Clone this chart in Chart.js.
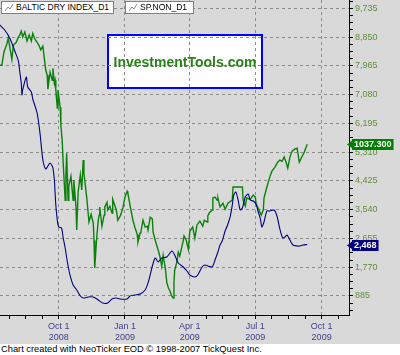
<!DOCTYPE html>
<html><head><meta charset="utf-8">
<script src="https://cdn.jsdelivr.net/npm/chart.js@4.4.1/dist/chart.umd.min.js"></script>
<style>
html,body{margin:0;padding:0;background:#d9d9d9;}
#wrap{position:relative;width:400px;height:355px;overflow:hidden;background:#d9d9d9;font-family:"Liberation Sans",Arial,sans-serif;}
canvas{position:absolute;left:0;top:0;}
.leg{position:absolute;top:1px;height:11px;background:#fff;border:1px solid #808080;font-size:8.5px;line-height:11px;color:#000;white-space:nowrap;}
.leg svg{position:absolute;left:3px;top:2px;}
.leg span{position:absolute;left:14px;top:0;}
#wm{position:absolute;left:107px;top:34px;width:156px;height:55px;display:flex;align-items:center;justify-content:center;font-weight:bold;font-size:14px;color:#2a801a;}
#footer{position:absolute;left:0;top:344px;width:400px;height:11px;background:#fff;font-size:9.3px;line-height:11px;color:#000;padding-left:1px;}
</style></head><body>
<div id="wrap">
<canvas id="c" width="400" height="355"></canvas>
<div class="leg" style="left:1px;width:111px"><svg width="9" height="8"><polyline points="0,7 3,3 5,5 8,0" fill="none" stroke="#8a8a8a" stroke-width="1"/></svg><span>BALTIC DRY INDEX_D1</span></div>
<div class="leg" style="left:125px;width:67px"><svg width="9" height="8"><polyline points="0,7 3,3 5,5 8,0" fill="none" stroke="#8a8a8a" stroke-width="1"/></svg><span>SP.NON_D1</span></div>
<div id="wm">InvestmentTools.com</div>
<div id="footer">Chart created with NeoTicker EOD © 1998-2007 TickQuest Inc.</div>
</div>
<script>
// x values are days after 1 Oct 2008
const bdiDays = [-82,-75,-68,-61,-56,-54,-52,-51,-50,-45,-43,-38,-36,-30,-26,-22,-18,-15,-12,-9,-8,-6,-5,-4,-2,0,4,6,9,12,16,20,25,30,34,41,48,55,61,68,74,80,85,95,99,106,113,120,124,127,130,134,138,143,150,157,161,166,173,178,182,189,193,199,203,207,213,217,221,224,227,231,234,238,241,243,246,249,252,255,259,263,266,270,274,277,280,282,285,289,293,299,303,307,311,314,317,321,325,331,335,339,345];
const bdiValues = [9221,9067,8821,8421,8114,7775,7437,7068,7222,7621,7314,7160,6945,6514,5899,5068,4792,4884,4976,4884,4822,4453,4053,3684,3223,3007,2977,2700,2361,1931,1500,1223,1070,885,823,854,854,762,670,670,793,823,793,793,885,916,947,1070,1285,1531,1808,2054,1931,2054,2085,2269,2146,1900,1777,1654,1531,1469,1531,1777,1839,1808,1777,1992,2238,2454,2577,2884,3038,3315,3684,3992,4084,3838,3530,3592,3930,4023,3838,3807,3715,3469,3254,3007,3161,3500,3500,3530,3346,2946,2669,2700,2761,2608,2454,2423,2423,2454,2468];
const spDays = [-82,-79,-76,-72,-70,-68,-65,-63,-59,-56,-54,-52,-50,-47,-44,-41,-38,-36,-33,-30,-27,-25,-22,-20,-18,-16,-15,-12,-9,-8,-6,-5,-4,-2,-1,2,3,5,6,9,10,11,13,14,17,20,21,24,25,27,30,32,34,35,39,42,45,48,49,50,53,55,56,57,60,63,64,67,68,71,74,75,80,82,86,89,92,95,96,99,103,106,109,110,113,114,117,120,123,124,127,130,131,134,136,139,141,143,145,148,150,152,155,157,159,160,161,164,166,168,173,174,177,180,182,186,189,192,196,200,202,206,207,209,213,214,217,220,221,224,228,231,235,241,242,249,255,256,259,261,266,270,273,274,277,281,284,285,289,293,296,300,304,307,310,313,316,318,321,324,328,331,334,338,341,345];
const spValues = [1222,1222,1253,1272,1286,1265,1236,1269,1276,1288,1293,1302,1288,1300,1279,1293,1279,1297,1283,1276,1267,1258,1267,1239,1211,1199,1166,1206,1187,1215,1180,1187,1164,1122,1164,1124,1082,1042,1000,906,965,1016,906,939,962,906,953,890,836,925,965,930,1000,969,911,855,873,852,812,747,824,859,871,890,845,871,890,901,883,892,876,908,883,859,871,887,913,927,923,894,859,841,826,808,829,831,859,843,845,836,866,862,831,812,801,784,770,751,777,747,714,702,691,681,677,712,742,761,784,775,812,822,812,791,833,843,817,848,857,845,859,855,869,876,883,911,913,906,911,890,899,885,899,906,937,937,937,906,892,911,908,918,913,897,887,871,883,911,937,960,974,983,995,1000,997,1007,993,981,1007,1021,1026,1028,995,1009,1019,1037.3];
const xTickDays = [0, 92, 182, 273, 365];
const xTickLabels = [['Oct 1','2008'],['Jan 1','2009'],['Apr 1','2009'],['Jul 1','2009'],['Oct 1','2009']];
const xMinorDays = [-69,-46,-23,23,46,69,115,137,160,205,228,250,296,319,342,388];
const yTickValues = [885,1770,2655,3540,4425,5310,6195,7080,7965,8850,9735];
const seriesNames = ['BALTIC DRY INDEX_D1','SP.NON_D1'];

const GRID = '#8c8c8c';
const bdiLast = bdiValues[bdiValues.length-1];
const spLast = spValues[spValues.length-1];

const watermarkBox = {
  id:'wmbox',
  beforeDraw(chart){
    const c = chart.ctx;
    c.save();
    c.fillStyle = '#ffffff';
    c.fillRect(107,34,156,55);
    c.strokeStyle = '#0000ff';
    c.lineWidth = 2;
    c.strokeRect(108,35,154,53);
    c.restore();
  }
};
const lastValueTags = {
  id:'lastval',
  afterDraw(chart){
    const c = chart.ctx, area = chart.chartArea;
    chart.data.datasets.forEach(ds=>{
      const last = ds.data[ds.data.length-1];
      const y = Math.round(chart.scales[ds.yAxisID].getPixelForValue(last.y));
      c.save();
      c.font = 'bold 9px "Liberation Sans", Arial, sans-serif';
      const w = c.measureText(ds.tagText).width + 4;
      const x0 = area.right + 3;
      c.fillStyle = ds.tagColor;
      c.fillRect(x0, y-5, w, 11);
      c.beginPath(); c.moveTo(x0, y-3.5); c.lineTo(x0-5, y+0.5); c.lineTo(x0, y+4); c.closePath(); c.fill();
      c.fillStyle = '#ffffff';
      c.textBaseline = 'middle';
      c.fillText(ds.tagText, x0+2, y+1);
      c.restore();
    });
  }
};

Chart.defaults.font.family = '"Liberation Sans", Arial, sans-serif';
new Chart(document.getElementById('c'), {
  type:'line',
  data:{
    datasets:[
      {label:seriesNames[0], data:bdiDays.map((d,i)=>({x:d,y:bdiValues[i]})), yAxisID:'y',
       borderColor:'#000080', borderWidth:1.1, pointRadius:0, tension:0.25,
       tagText:bdiLast.toLocaleString('en-US'), tagColor:'#000080'},
      {label:seriesNames[1], data:spDays.map((d,i)=>({x:d,y:spValues[i]})), yAxisID:'y2',
       borderColor:'#0a820a', borderWidth:1.4, pointRadius:0, tension:0,
       tagText:spLast.toFixed(3), tagColor:'#008000'}
    ]
  },
  options:{
    responsive:false, animation:false, events:[],
    layout:{padding:0},
    plugins:{legend:{display:false}, tooltip:{enabled:false}, title:{display:false}},
    scales:{
      x:{
        type:'linear', min:-81.5, max:403,
        afterBuildTicks(s){
          s.ticks = xTickDays.concat(xMinorDays).sort((a,b)=>a-b).map(v=>({value:v}));
        },
        afterFit(s){ s.height = 40; s.paddingLeft = 0; s.paddingRight = 0; },
        grid:{
          color:ctx=> (ctx.tick && xTickDays.includes(ctx.tick.value)) ? GRID : 'rgba(0,0,0,0)',
          tickColor:'#000', tickLength:4, lineWidth:1
        },
        border:{display:true, color:'#000', width:1, dash:[3,3]},
        ticks:{
          autoSkip:false, maxRotation:0, minRotation:0, padding:2,
          color:'#404090', font:{size:9, lineHeight:1.25},
          callback:(v)=>{ const i = xTickDays.indexOf(v); return i>=0 ? xTickLabels[i] : ''; }
        }
      },
      y:{
        type:'linear', position:'right', min:300, max:9990,
        afterBuildTicks(s){
          const step = (yTickValues[1]-yTickValues[0])/4;
          const t = [];
          for (let v = step; v <= s.max; v += step) if (v >= s.min) t.push({value:v});
          s.ticks = t;
        },
        afterFit(s){ s.width = 51; s.paddingTop = 0; s.paddingBottom = 0; },
        grid:{
          color:ctx=> (ctx.tick && yTickValues.includes(ctx.tick.value)) ? GRID : 'rgba(0,0,0,0)',
          tickColor:'#000', tickLength:4, lineWidth:1
        },
        border:{display:true, color:'#000', width:1, dash:[3,3]},
        ticks:{
          autoSkip:false, padding:2, color:'#5f8f3a', font:{size:9},
          callback:(v)=> yTickValues.includes(v) ? v.toLocaleString('en-US') : ''
        }
      },
      y2:{ type:'linear', display:false, min:637, max:1375 }
    }
  },
  plugins:[watermarkBox, lastValueTags]
});
</script>
</body></html>
